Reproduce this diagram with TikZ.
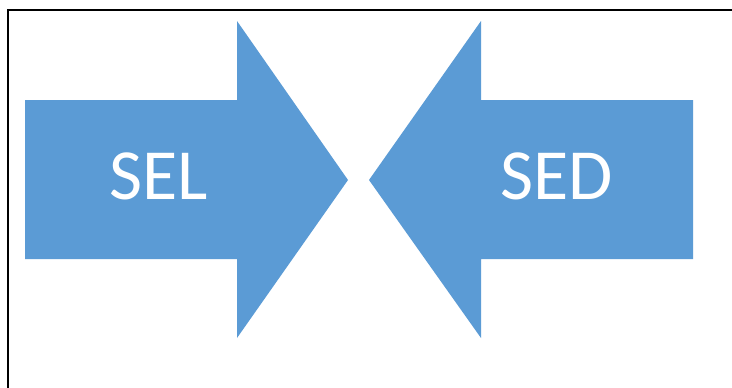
\documentclass[tikz,border=0pt]{standalone}
\usepackage{fontspec}
\setmainfont{Carlito}
\definecolor{arrowblue}{HTML}{5B9BD5}
\begin{document}
\begin{tikzpicture}[x=1pt,y=-1pt,
  bigarrow/.style={fill=arrowblue,draw=none},
  arrowlabel/.style={text=white,font=\fontsize{72}{80}\selectfont,anchor=base,inner sep=0pt}]
\useasboundingbox (0,0) rectangle (732,388);
\fill[white] (0,0) rectangle (732,388);
% frame (top and left)
\draw[line width=2pt] (732,10) -- (8,10) -- (8,388);
% left arrow
\path[bigarrow] (25,100) -- (237,100) -- (237,21) -- (348,180) -- (237,338) -- (237,259) -- (25,259) -- cycle;
% right arrow
\path[bigarrow] (693,100) -- (481,100) -- (481,21) -- (369,180) -- (481,338) -- (481,259) -- (693,259) -- cycle;
\node[arrowlabel] (sel) at (159,199) {SEL};
\node[arrowlabel] (sed) at (557,199) {SED};
\end{tikzpicture}
\end{document}
